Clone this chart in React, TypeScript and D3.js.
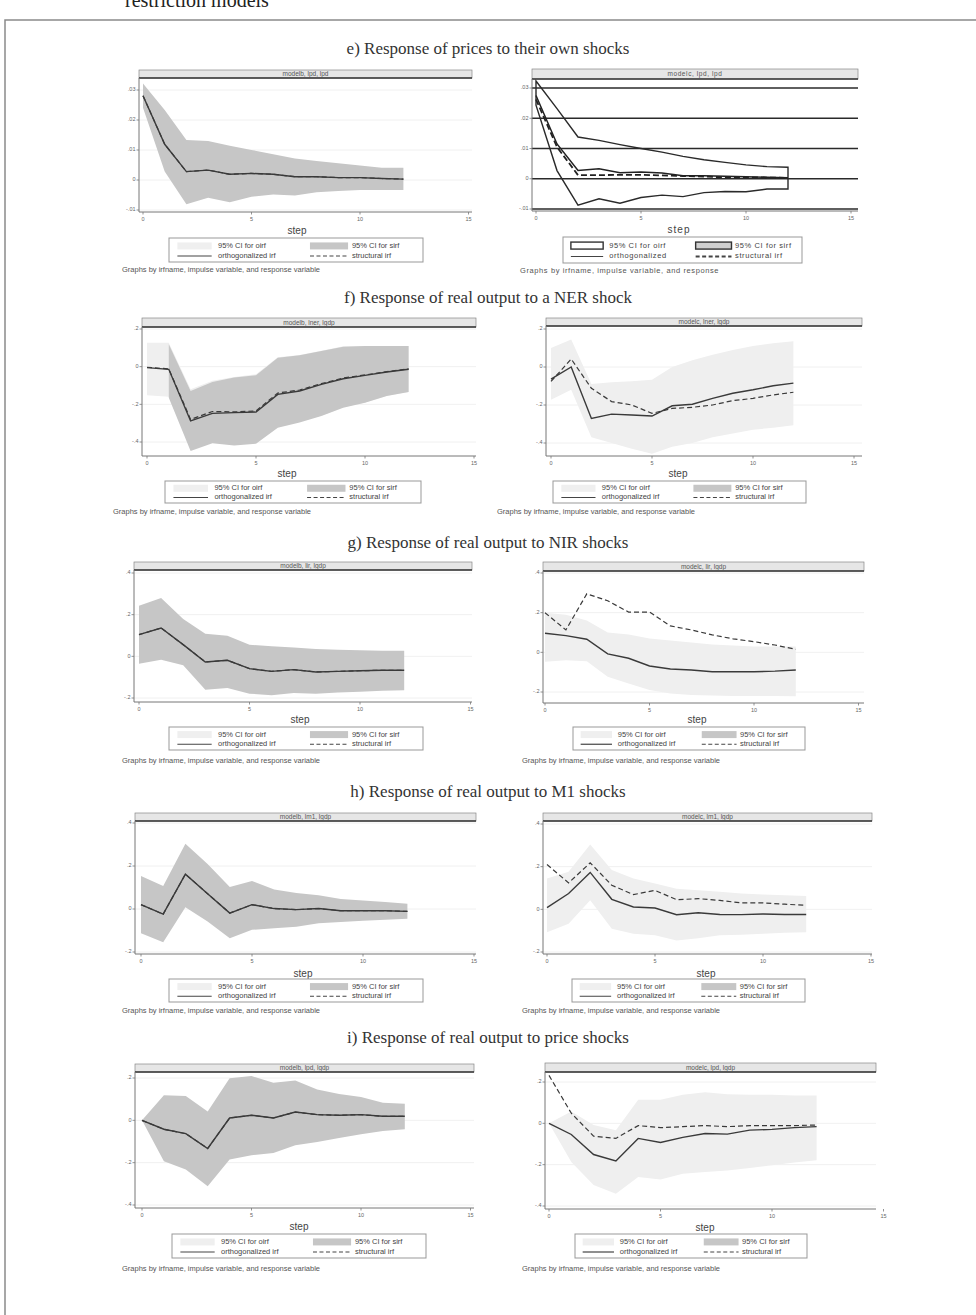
import React from 'react';
import * as d3 from 'd3';

// ---------- data ----------
const STEPS = [0, 1, 2, 3, 4, 5, 6, 7, 8, 9, 10, 11, 12];
const X_TICKS = [0, 5, 10, 15];
const Y_TICKS_E = [0.03, 0.02, 0.01, 0, -0.01];
const Y_TICKS_F = [0.2, 0, -0.2, -0.4];
const Y_TICKS_G = [0.4, 0.2, 0, -0.2];
const Y_TICKS_I = [0.2, 0, -0.2, -0.4];

const ROW_TITLES = [
  'e) Response of prices to their own shocks',
  'f) Response of real output to a NER shock',
  'g) Response of real output to NIR shocks',
  'h) Response of real output to M1 shocks',
  'i) Response of real output to price shocks',
];
const STRIP_LABELS = [
  'modelb, lpd, lpd', 'modelc, lpd, lpd',
  'modelb, lner, lgdp', 'modelc, lner, lgdp',
  'modelb, lir, lgdp', 'modelc, lir, lgdp',
  'modelb, lm1, lgdp', 'modelc, lm1, lgdp',
  'modelb, lpd, lgdp', 'modelc, lpd, lgdp',
];
const LEGEND_LABELS = ['95% CI for oirf', '95% CI for sirf', 'orthogonalized irf', 'structural irf'];
const LEGEND_LABELS_SHORT = ['95% CI for oirf', '95% CI for sirf', 'orthogonalized', 'structural irf'];
const NOTE = 'Graphs by irfname, impulse variable, and response variable';
const NOTE_SHORT = 'Graphs by irfname, impulse variable, and response';
const X_TITLE = 'step';

// e) left  (modelb, lpd, lpd)
const eb_orth = [0.0281, 0.0119, 0.0028, 0.0033, 0.0019, 0.0022, 0.0019, 0.0011, 0.0011, 0.0008, 0.0008, 0.0005, 0.0003];
const eb_hi = [0.0322, 0.0233, 0.0133, 0.013, 0.0114, 0.01, 0.0086, 0.0072, 0.0063, 0.0056, 0.0048, 0.0041, 0.0041];
const eb_lo = [0.0241, 0.0028, -0.0081, -0.0059, -0.0074, -0.0056, -0.0048, -0.0052, -0.0041, -0.0037, -0.0033, -0.0033, -0.0033];
// e) right (modelc, lpd, lpd)
const ec_orth = [0.0275, 0.0115, 0.0027, 0.0033, 0.002, 0.0022, 0.0019, 0.001, 0.001, 0.0008, 0.0007, 0.0005, 0.0003];
const ec_struct = [0.0262, 0.0105, 0.0012, 0.0012, 0.0013, 0.0013, 0.0011, 0.0009, 0.0007, 0.0005, 0.0005, 0.0004, 0.0003];
const ec_hi = [0.0323, 0.0232, 0.0138, 0.0127, 0.0113, 0.01, 0.0088, 0.0074, 0.0063, 0.0054, 0.0046, 0.004, 0.0038];
const ec_lo = [0.0243, 0.0027, -0.0087, -0.0066, -0.0081, -0.0062, -0.0054, -0.0059, -0.0046, -0.0042, -0.0043, -0.0034, -0.0034];

// f) left (modelb, lner, lgdp)
const fb_orth = [-0.005, -0.014, -0.288, -0.248, -0.244, -0.241, -0.147, -0.129, -0.094, -0.064, -0.046, -0.028, -0.014];
const fb_struct = [-0.003, -0.012, -0.28, -0.238, -0.24, -0.235, -0.14, -0.124, -0.09, -0.06, -0.044, -0.026, -0.012];
const fb_ohi = [0.127, 0.127, -0.12, -0.075, -0.055, -0.04, 0.05, 0.062, 0.085, 0.108, 0.11, 0.11, 0.11];
const fb_olo = [-0.152, -0.16, -0.44, -0.4, -0.41, -0.4, -0.32, -0.29, -0.26, -0.215, -0.19, -0.155, -0.135];
const fb_shi = [null, 0.119, -0.129, -0.081, -0.058, -0.046, 0.048, 0.06, 0.083, 0.106, 0.11, 0.11, 0.11];
const fb_slo = [null, -0.165, -0.448, -0.407, -0.418, -0.409, -0.324, -0.297, -0.262, -0.218, -0.191, -0.156, -0.135];
// f) right (modelc, lner, lgdp)
const fc_orth = [-0.064, 0.0, -0.271, -0.248, -0.253, -0.258, -0.204, -0.196, -0.165, -0.138, -0.12, -0.099, -0.085];
const fc_struct = [-0.076, 0.042, -0.112, -0.182, -0.2, -0.244, -0.218, -0.212, -0.2, -0.177, -0.165, -0.147, -0.133];
const fc_hi = [0.1, 0.145, -0.09, -0.08, -0.075, -0.067, 0.0, 0.035, 0.065, 0.09, 0.11, 0.125, 0.136];
const fc_lo = [-0.173, -0.12, -0.37, -0.4, -0.43, -0.457, -0.42, -0.4, -0.37, -0.35, -0.33, -0.32, -0.306];

// g) left (modelb, lir, lgdp)
const gb_orth = [0.104, 0.136, 0.056, -0.027, -0.019, -0.059, -0.072, -0.064, -0.075, -0.072, -0.069, -0.067, -0.067];
const gb_hi = [0.243, 0.28, 0.179, 0.109, 0.099, 0.056, 0.048, 0.043, 0.035, 0.032, 0.029, 0.027, 0.027];
const gb_lo = [-0.035, -0.016, -0.043, -0.16, -0.152, -0.179, -0.187, -0.176, -0.179, -0.173, -0.17, -0.165, -0.163];
// g) right (modelc, lir, lgdp)
const gc_orth = [0.096, 0.084, 0.066, -0.008, -0.03, -0.069, -0.084, -0.089, -0.098, -0.098, -0.098, -0.095, -0.089];
const gc_struct = [0.2, 0.113, 0.295, 0.26, 0.203, 0.203, 0.133, 0.113, 0.088, 0.068, 0.054, 0.037, 0.015];
const gc_hi = [0.2, 0.19, 0.16, 0.1, 0.09, 0.07, 0.06, 0.05, 0.04, 0.035, 0.03, 0.03, 0.03];
const gc_lo = [-0.047, -0.04, -0.045, -0.123, -0.157, -0.19, -0.208, -0.215, -0.218, -0.22, -0.22, -0.22, -0.221];

// h) left (modelb, lm1, lgdp)
const hb_orth = [0.02, -0.024, 0.162, 0.071, -0.019, 0.02, 0.002, -0.003, 0.002, -0.008, -0.008, -0.008, -0.011];
const hb_hi = [0.154, 0.107, 0.303, 0.209, 0.102, 0.13, 0.091, 0.075, 0.064, 0.047, 0.039, 0.033, 0.024];
const hb_lo = [-0.113, -0.155, 0.008, -0.058, -0.136, -0.097, -0.089, -0.082, -0.066, -0.061, -0.055, -0.05, -0.045];
// h) right (modelc, lm1, lgdp)
const hc_orth = [0.008, 0.074, 0.173, 0.047, 0.011, 0.006, -0.025, -0.016, -0.024, -0.025, -0.022, -0.024, -0.024];
const hc_struct = [0.21, 0.124, 0.218, 0.113, 0.069, 0.089, 0.045, 0.05, 0.042, 0.03, 0.03, 0.024, 0.019];
const hc_hi = [0.144, 0.176, 0.304, 0.184, 0.144, 0.121, 0.097, 0.089, 0.082, 0.074, 0.069, 0.066, 0.063];
const hc_lo = [-0.107, -0.067, 0.042, -0.091, -0.115, -0.122, -0.146, -0.135, -0.122, -0.119, -0.115, -0.11, -0.107];

// i) left (modelb, lpd, lgdp)
const ib_orth = [0.0, -0.042, -0.063, -0.133, 0.011, 0.024, 0.011, 0.039, 0.027, 0.024, 0.027, 0.019, 0.019];
const ib_hi = [0.0, 0.118, 0.115, 0.042, 0.199, 0.209, 0.177, 0.188, 0.146, 0.125, 0.11, 0.083, 0.078];
const ib_lo = [0.0, -0.193, -0.232, -0.311, -0.185, -0.165, -0.154, -0.118, -0.102, -0.083, -0.066, -0.05, -0.042];
// i) right (modelc, lpd, lgdp)
const ic_orth = [0.0, -0.054, -0.151, -0.182, -0.073, -0.093, -0.068, -0.049, -0.052, -0.033, -0.029, -0.021, -0.016];
const ic_struct = [0.232, 0.049, -0.062, -0.073, -0.011, -0.021, -0.016, -0.011, -0.016, -0.011, -0.011, -0.011, -0.008];
const ic_hi = [0.0, 0.057, -0.008, -0.033, 0.114, 0.114, 0.138, 0.151, 0.141, 0.138, 0.138, 0.135, 0.135];
const ic_lo = [0.0, -0.187, -0.298, -0.341, -0.26, -0.272, -0.244, -0.236, -0.228, -0.216, -0.203, -0.19, -0.179];

// ---------- layout ----------
const TITLE_Y = [54, 303, 548, 797, 1043];

type Lay = {
  axisX: number; right: number; stripTop: number; stripBot: number; axisY: number;
  x0: number; x10: number; yv1: number; yp1: number; yv2: number; yp2: number;
  stepX: number; stepY: number; legX: number; legY: number; legW: number; legH: number;
  noteX: number; noteY: number;
};
const lay = (a: number[]): Lay => ({
  axisX: a[0], right: a[1], stripTop: a[2], stripBot: a[3], axisY: a[4], x0: a[5], x10: a[6],
  yv1: a[7], yp1: a[8], yv2: a[9], yp2: a[10], stepX: a[11], stepY: a[12],
  legX: a[13], legY: a[14], legW: a[15], legH: a[16], noteX: a[17], noteY: a[18],
});

type Band = { lo: (number | null)[]; hi: (number | null)[]; fill: string };
type PanelDef = {
  layout: Lay; strip: string; ticks: number[]; bands: Band[]; orth: number[]; struct: number[];
  outline?: boolean; shortText?: boolean;
};

const LIGHT = '#efefef';
const DARK = '#c6c6c6';

const PANELS: PanelDef[] = [
  { layout: lay([139, 472, 70, 78, 212, 143, 360, 0.03, 90, -0.01, 210, 297, 231, 169, 238, 254, 24, 122, 270]),
    strip: STRIP_LABELS[0], ticks: Y_TICKS_E, bands: [{ lo: eb_lo, hi: eb_hi, fill: DARK }], orth: eb_orth, struct: eb_orth },
  { layout: lay([532, 858, 69, 79, 211, 536, 746, 0.03, 88, -0.01, 209, 679, 230, 563, 237, 239, 26, 520, 271]),
    strip: STRIP_LABELS[1], ticks: Y_TICKS_E, bands: [{ lo: ec_lo, hi: ec_hi, fill: 'none' }], orth: ec_orth, struct: ec_struct, outline: true, shortText: true },
  { layout: lay([142, 476, 318, 327, 456, 147, 365, 0.2, 329, -0.4, 442, 287, 474, 165, 481, 256, 22, 113, 512]),
    strip: STRIP_LABELS[2], ticks: Y_TICKS_F, bands: [{ lo: fb_olo, hi: fb_ohi, fill: LIGHT }, { lo: fb_slo, hi: fb_shi, fill: DARK }], orth: fb_orth, struct: fb_struct },
  { layout: lay([546, 862, 318, 326, 456, 551, 753, 0.2, 329, -0.4, 443, 678, 474, 553, 481, 253, 22, 497, 512]),
    strip: STRIP_LABELS[3], ticks: Y_TICKS_F, bands: [{ lo: fc_lo, hi: fc_hi, fill: LIGHT }], orth: fc_orth, struct: fc_struct },
  { layout: lay([134, 472, 562, 570, 702, 139, 360, 0.4, 573, -0.2, 698, 300, 720, 169, 727, 254, 23, 122, 761]),
    strip: STRIP_LABELS[4], ticks: Y_TICKS_G, bands: [{ lo: gb_lo, hi: gb_hi, fill: DARK }], orth: gb_orth, struct: gb_orth },
  { layout: lay([543, 864, 562, 571, 703, 545, 754, 0.4, 573, -0.2, 692, 697, 720, 573, 727, 232, 23, 522, 761]),
    strip: STRIP_LABELS[5], ticks: Y_TICKS_G, bands: [{ lo: gc_lo, hi: gc_hi, fill: LIGHT }], orth: gc_orth, struct: gc_struct },
  { layout: lay([135, 476, 813, 821, 954, 141, 363, 0.4, 823, -0.2, 952, 303, 974, 169, 979, 254, 23, 122, 1011]),
    strip: STRIP_LABELS[6], ticks: Y_TICKS_G, bands: [{ lo: hb_lo, hi: hb_hi, fill: DARK }], orth: hb_orth, struct: hb_orth },
  { layout: lay([543, 872, 813, 821, 954, 547, 763, 0.4, 824, -0.2, 952, 706, 974, 572, 979, 233, 23, 522, 1011]),
    strip: STRIP_LABELS[7], ticks: Y_TICKS_G, bands: [{ lo: hc_lo, hi: hc_hi, fill: LIGHT }], orth: hc_orth, struct: hc_struct },
  { layout: lay([135, 474, 1064, 1072, 1208, 142, 361, 0.2, 1078, -0.4, 1205, 299, 1227, 172, 1234, 254, 24, 122, 1269]),
    strip: STRIP_LABELS[8], ticks: Y_TICKS_I, bands: [{ lo: ib_lo, hi: ib_hi, fill: DARK }], orth: ib_orth, struct: ib_orth },
  { layout: lay([545, 876, 1063, 1072, 1209, 549, 772, 0.2, 1082, -0.4, 1206, 705, 1228, 575, 1234, 232, 24, 522, 1269]),
    strip: STRIP_LABELS[9], ticks: Y_TICKS_I, bands: [{ lo: ic_lo, hi: ic_hi, fill: LIGHT }], orth: ic_orth, struct: ic_struct },
];

const SANS = 'Liberation Sans, Arial, sans-serif';
const SERIF = 'Liberation Serif, Times New Roman, serif';

const fmt = (v: number) => {
  if (v === 0) return '0';
  const s = String(Math.abs(+v.toFixed(4))).replace(/^0\./, '.');
  return (v < 0 ? '-' : '') + s;
};

function Legend({ L, outline, short }: { L: Lay; outline?: boolean; short?: boolean }) {
  const { legX: x, legY: y, legW: w, legH: h } = L;
  const fx = (f: number) => x + f * w;
  const r1 = y + h * 0.33;
  const r2 = y + h * 0.75;
  const labels = short ? LEGEND_LABELS_SHORT : LEGEND_LABELS;
  const ls = outline ? 0.6 : 0;
  return (
    <g fontFamily={SANS} fontSize={7.5} fill="#444" letterSpacing={ls}>
      <rect x={x} y={y} width={w} height={h} fill="#fff" stroke="#999" strokeWidth={1} />
      <rect x={fx(0.033)} y={r1 - 3.5} width={fx(0.168) - fx(0.033)} height={7}
        fill={outline ? '#fff' : LIGHT} stroke={outline ? '#333' : 'none'} strokeWidth={1.4} />
      <text x={fx(0.193)} y={r1} dominantBaseline="middle">{labels[0]}</text>
      <rect x={fx(0.555)} y={r1 - 3.5} width={fx(0.705) - fx(0.555)} height={7}
        fill={outline ? '#d0d0d0' : DARK} stroke={outline ? '#333' : 'none'} strokeWidth={1.4} />
      <text x={fx(0.72)} y={r1} dominantBaseline="middle">{labels[1]}</text>
      <line x1={fx(0.033)} x2={fx(0.168)} y1={r2} y2={r2} stroke="#444" strokeWidth={1.2} />
      <text x={fx(0.193)} y={r2} dominantBaseline="middle">{labels[2]}</text>
      <line x1={fx(0.555)} x2={fx(0.705)} y1={r2} y2={r2} stroke="#444" strokeWidth={outline ? 1.8 : 1.1}
        strokeDasharray="4,2.5" />
      <text x={fx(0.72)} y={r2} dominantBaseline="middle">{labels[3]}</text>
    </g>
  );
}

function Panel({ p }: { p: PanelDef }) {
  const L = p.layout;
  const x = d3.scaleLinear().domain([0, 10]).range([L.x0, L.x10]);
  const y = d3.scaleLinear().domain([L.yv1, L.yv2]).range([L.yp1, L.yp2]);
  const areaPath = (b: Band) =>
    d3.area<number>()
      .defined((_, i) => b.lo[i] != null && b.hi[i] != null)
      .x((s) => x(s))
      .y0((_, i) => y(b.lo[i] as number))
      .y1((_, i) => y(b.hi[i] as number))(STEPS) || '';
  const linePath = (v: number[]) =>
    d3.line<number>().x((s) => x(s)).y((_, i) => y(v[i]))(STEPS) || '';
  const lineCol = p.outline ? '#222' : '#3a3a3a';
  return (
    <g>
      {p.ticks.map((t) => (
        <line key={'g' + t} x1={L.axisX} x2={L.right} y1={y(t)} y2={y(t)}
          stroke={p.outline ? '#2a2a2a' : '#ececec'} strokeWidth={p.outline ? 1.6 : 0.8} />
      ))}
      {p.bands.map((b, i) => (
        <path key={'b' + i} d={areaPath(b)} fill={b.fill}
          stroke={p.outline ? '#2a2a2a' : 'none'} strokeWidth={p.outline ? 1.4 : 0} />
      ))}
      <path d={linePath(p.orth)} fill="none" stroke={lineCol} strokeWidth={p.outline ? 1.5 : 1.4} />
      <path d={linePath(p.struct)} fill="none" stroke={lineCol} strokeWidth={p.outline ? 1.8 : 1.2}
        strokeDasharray={p.outline ? '6,3' : '5,3'} />
      <rect x={L.axisX} y={L.stripTop} width={L.right - L.axisX} height={L.stripBot - L.stripTop}
        fill="#e6e6e6" stroke="#888" strokeWidth={0.7} />
      <line x1={L.axisX} x2={L.right} y1={L.stripBot} y2={L.stripBot} stroke="#333" strokeWidth={1.3} />
      <text x={(L.axisX + L.right) / 2} y={(L.stripTop + L.stripBot) / 2 + 0.5} textAnchor="middle"
        dominantBaseline="middle" fontFamily={SANS} fontSize={6.5} fill="#555"
        letterSpacing={p.outline ? 0.6 : 0}>{p.strip}</text>
      <line x1={L.axisX} x2={L.axisX} y1={L.stripBot} y2={L.axisY} stroke="#777" strokeWidth={1} />
      <line x1={L.axisX} x2={L.right} y1={L.axisY} y2={L.axisY} stroke="#777" strokeWidth={1} />
      {p.ticks.map((t) => (
        <g key={'y' + t}>
          <line x1={L.axisX - 2.5} x2={L.axisX} y1={y(t)} y2={y(t)} stroke="#777" strokeWidth={0.8} />
          <text x={L.axisX - 3.5} y={y(t)} textAnchor="end" dominantBaseline="middle"
            fontFamily={SANS} fontSize={5.5} fill="#666">{fmt(t)}</text>
        </g>
      ))}
      {X_TICKS.map((t) => (
        <g key={'x' + t}>
          <line x1={x(t)} x2={x(t)} y1={L.axisY} y2={L.axisY + 2.5} stroke="#777" strokeWidth={0.8} />
          <text x={x(t)} y={L.axisY + 8} textAnchor="middle" dominantBaseline="middle"
            fontFamily={SANS} fontSize={5.5} fill="#666">{t}</text>
        </g>
      ))}
      <text x={L.stepX} y={L.stepY} textAnchor="middle" dominantBaseline="middle" fontFamily={SANS}
        fontSize={10} fill="#444" letterSpacing={p.outline ? 1 : 0}>{X_TITLE}</text>
      <Legend L={L} outline={p.outline} short={p.shortText} />
      <text x={L.noteX} y={L.noteY} dominantBaseline="middle" fontFamily={SANS} fontSize={7.5}
        fill="#555" letterSpacing={p.outline ? 0.6 : 0}>{p.shortText ? NOTE_SHORT : NOTE}</text>
    </g>
  );
}

export default function App() {
  return (
    <svg width={976} height={1315} style={{ position: 'absolute', left: 0, top: 0, background: '#fff' }}>
      <rect x={0} y={0} width={976} height={1315} fill="#fff" />
      <text x={125} y={7} fontFamily={SERIF} fontSize={20} fill="#222">restriction models</text>
      <path d="M5,1315 L5,20 L976,20" fill="none" stroke="#8a8a8a" strokeWidth={1.5} />
      {ROW_TITLES.map((t, i) => (
        <text key={t} x={488} y={TITLE_Y[i]} textAnchor="middle" fontFamily={SERIF} fontSize={17}
          fill="#333">{t}</text>
      ))}
      {PANELS.map((p, i) => <Panel key={i} p={p} />)}
    </svg>
  );
}
